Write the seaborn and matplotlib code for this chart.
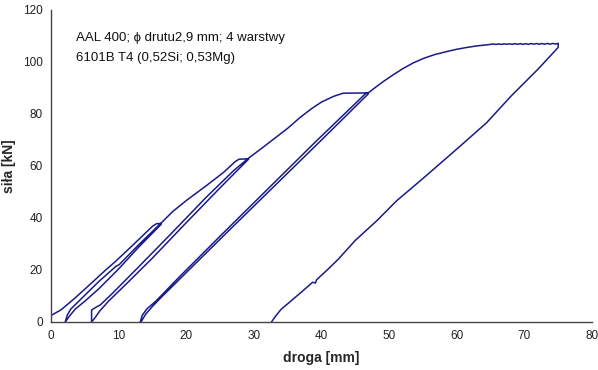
import matplotlib
matplotlib.use("Agg")
import matplotlib.pyplot as plt
import seaborn as sns
import pandas as pd

# --- data, one continuous test record ---
load1_x = [0.0, 1.5, 3.5, 6.0, 8.0, 9.5, 12.0, 14.0, 15.0, 15.6, 16.3]
load1_y = [2.5, 4.7, 9.1, 15.0, 19.8, 23.2, 29.3, 34.3, 36.8, 37.8, 37.9]
unload1_x = [16.3, 13.0, 10.0, 7.0, 5.0, 3.6, 2.8, 2.1]
unload1_y = [37.6, 28.9, 20.4, 12.6, 8.0, 5.0, 2.5, 0.0]
reload1_x = [2.1, 2.4, 2.9, 3.8, 5.0, 7.0, 9.6, 10.1, 13.0, 16.3]
reload1_y = [0.0, 2.6, 4.9, 7.2, 10.3, 15.4, 21.4, 22.1, 29.8, 38.1]
load2_x = [16.3, 18.0, 20.1, 23.0, 25.5, 27.2, 27.8, 29.2]
load2_y = [38.1, 42.5, 46.9, 52.5, 57.5, 61.6, 62.6, 62.8]
unload2_x = [29.2, 25.0, 20.0, 15.0, 11.0, 8.5, 7.2, 6.5, 6.0]
unload2_y = [62.6, 51.6, 38.2, 24.6, 14.3, 8.0, 4.2, 1.6, 0.0]
reload2_x = [6.0, 6.0, 6.6, 7.3, 9.0, 13.0, 18.0, 23.0, 27.0, 29.2]
reload2_y = [0.0, 4.6, 5.6, 6.6, 10.8, 21.3, 34.6, 48.1, 58.2, 63.0]
load3_x = [29.2, 31.0, 33.4, 35.0, 36.8, 38.5, 40.0, 41.8, 43.2, 46.9]
load3_y = [63.0, 66.5, 71.3, 74.5, 78.6, 82.0, 84.6, 86.8, 88.0, 88.1]
unload3_x = [46.9, 40.0, 33.0, 26.0, 20.0, 16.5, 15.0, 14.0, 13.3]
unload3_y = [87.7, 70.0, 52.2, 34.4, 19.0, 10.0, 6.0, 3.0, 0.0]
reload3_x = [13.2, 13.5, 14.2, 15.5, 19.0, 25.0, 32.0, 39.0, 46.5, 47.0]
reload3_y = [0.0, 2.6, 5.1, 8.0, 17.4, 33.0, 51.0, 69.0, 87.8, 88.3]
load4_x = [47.0, 48.0, 49.2, 50.5, 52.0, 53.6, 55.2, 56.8, 58.5, 60.0, 61.5,
           63.0, 64.5, 65.0, 65.4, 65.8, 66.2, 66.6, 67.0, 67.4, 67.8, 68.2,
           68.6, 69.0, 69.4, 69.8, 70.2, 70.6, 71.0, 71.4, 71.8, 72.2, 72.6,
           73.0, 73.4, 73.8, 74.2, 74.6, 75.0]
load4_y = [88.3, 90.3, 92.6, 94.9, 97.4, 99.7, 101.5, 102.9, 104.0, 104.9, 105.6,
           106.2, 106.6, 106.8, 106.95, 106.75, 106.95, 106.75, 107.0, 106.8,
           107.0, 106.8, 107.05, 106.8, 107.05, 106.8, 107.05, 106.8, 107.1,
           106.85, 107.1, 106.85, 107.1, 106.85, 107.15, 106.85, 107.15, 106.9, 107.2]
unload4_x = [75.0, 75.0, 72.0, 68.0, 64.4, 60.0, 55.0, 51.1, 48.2, 45.0, 42.5,
             41.0, 39.3, 39.1, 38.7, 36.8, 34.0, 33.2, 32.6]
unload4_y = [107.2, 105.6, 97.2, 86.8, 76.6, 66.5, 55.2, 46.6, 39.0, 31.4, 24.2,
             20.4, 16.3, 15.0, 15.3, 11.0, 4.8, 2.2, 0.0]

x_ticks = [0, 10, 20, 30, 40, 50, 60, 70, 80]
y_ticks = [0, 20, 40, 60, 80, 100, 120]
label_line1 = "AAL 400; \u03d5 drutu2,9 mm; 4 warstwy"
label_line2 = "6101B T4 (0,52Si; 0,53Mg)"

segments = [(load1_x, load1_y), (unload1_x, unload1_y), (reload1_x, reload1_y),
            (load2_x, load2_y), (unload2_x, unload2_y), (reload2_x, reload2_y),
            (load3_x, load3_y), (unload3_x, unload3_y), (reload3_x, reload3_y),
            (load4_x, load4_y), (unload4_x, unload4_y)]
xs, ys = [], []
for sx, sy in segments:
    xs.extend(sx)
    ys.extend(sy)
df = pd.DataFrame({"droga": xs, "sila": ys})

sns.set_theme(style="white")
plt.rcParams["font.family"] = ["Liberation Sans", "DejaVu Sans"]

fig = plt.figure(figsize=(5.98, 3.70), dpi=100)
ax = fig.add_axes([51 / 598, 1 - 322 / 370, (592 - 51) / 598, (322 - 10) / 370])

sns.lineplot(data=df, x="droga", y="sila", sort=False, estimator=None,
             color="#1a1a88", linewidth=1.1, ax=ax)

ax.set_xlim(0, 80)
ax.set_ylim(0, 120)
ax.set_xticks(x_ticks)
ax.set_yticks(y_ticks)
ax.tick_params(axis="both", direction="inout", length=6, width=0.8,
               colors="#333333", labelsize=8.5, labelcolor="#222222", pad=3)
for side in ["top", "right"]:
    ax.spines[side].set_visible(False)
for side in ["left", "bottom"]:
    ax.spines[side].set_color("#444444")
    ax.spines[side].set_linewidth(1.0)

ax.set_xlabel("droga [mm]", fontsize=10, fontweight="bold", labelpad=6)
ax.set_ylabel("siła [kN]", fontsize=10, fontweight="bold", labelpad=5)

ax.text(3.7, 111.5, label_line1, fontsize=9.5, va="top", ha="left", color="#111111")
ax.text(3.7, 104.0, label_line2, fontsize=9.5, va="top", ha="left", color="#111111")

fig.savefig("out.png", dpi=100)
